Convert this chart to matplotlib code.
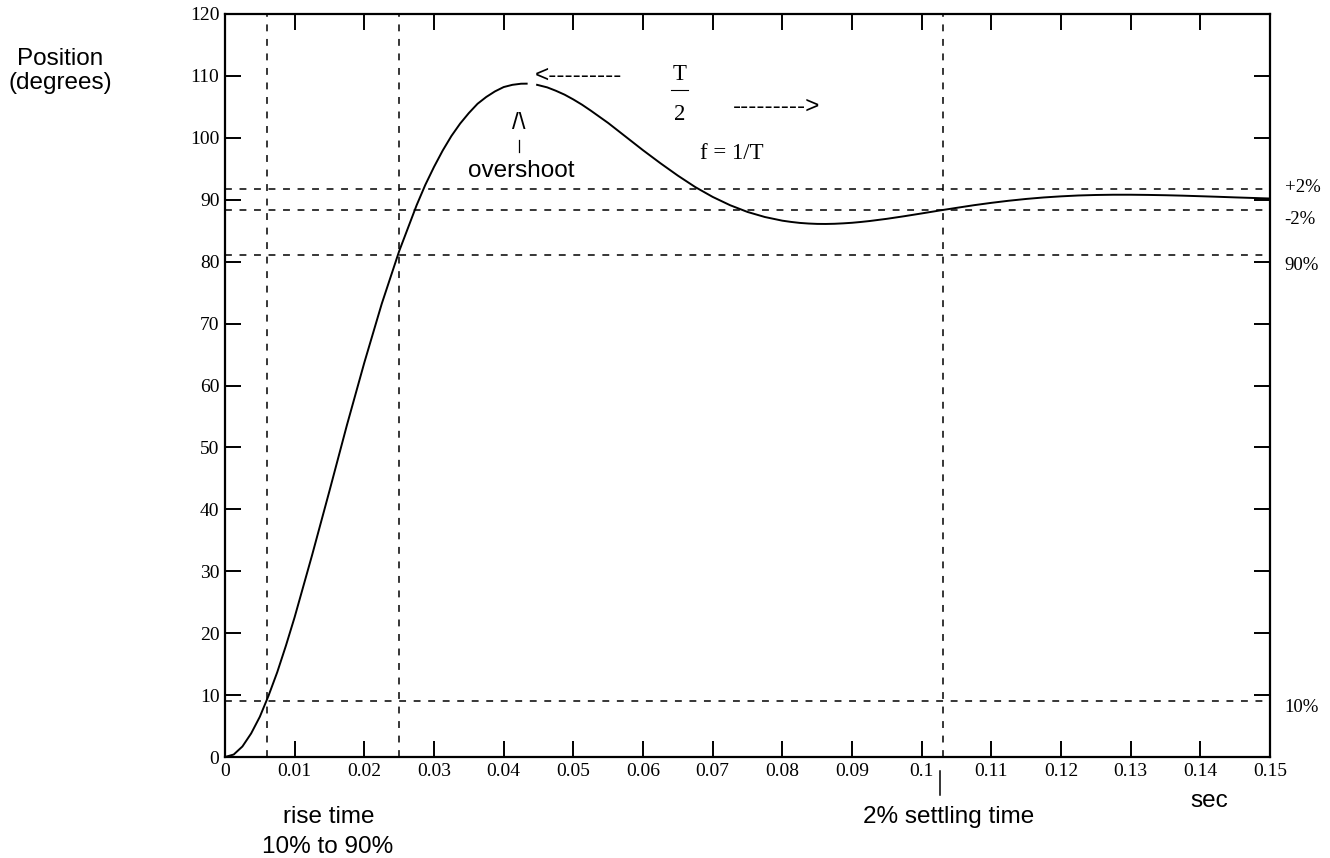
import numpy as np
import matplotlib
matplotlib.use('Agg')
import matplotlib.pyplot as plt

# step response (sec, degrees); the trace has a small break at the peak
t_rise = [0.0, 0.00125, 0.0025, 0.00375, 0.005, 0.00625, 0.0075, 0.00875, 0.01, 0.0125,
          0.015, 0.0175, 0.02, 0.0225, 0.025, 0.0275, 0.02875, 0.03, 0.03125, 0.0325,
          0.03375, 0.035, 0.03625, 0.0375, 0.03875, 0.04, 0.04125, 0.0425, 0.0433]
pos_rise = [0.0, 0.4, 1.7, 3.8, 6.5, 9.9, 13.7, 18.0, 22.6, 32.6,
            43.0, 53.6, 63.7, 73.2, 81.7, 89.1, 92.4, 95.3, 97.95, 100.3,
            102.3, 104.0, 105.5, 106.6, 107.5, 108.2, 108.56, 108.74, 108.75]
t_fall = [0.0448, 0.04625, 0.0475, 0.04875, 0.05, 0.05125, 0.0525, 0.055, 0.0575, 0.06,
          0.0625, 0.065, 0.0675, 0.07, 0.0725, 0.075, 0.0775, 0.08, 0.08125, 0.0825,
          0.08375, 0.085, 0.08625, 0.0875, 0.08875, 0.09, 0.09125, 0.0925, 0.095, 0.0975,
          0.1, 0.1025, 0.105, 0.1075, 0.11, 0.1125, 0.115, 0.1175, 0.12, 0.1225,
          0.125, 0.1275, 0.13, 0.1325, 0.135, 0.1375, 0.14, 0.1425, 0.145, 0.1475, 0.15]
pos_fall = [108.56, 108.15, 107.6, 106.97, 106.2, 105.35, 104.4, 102.4, 100.2, 98.0,
            95.9, 93.9, 92.05, 90.46, 89.12, 88.03, 87.21, 86.62, 86.42, 86.26,
            86.16, 86.10, 86.09, 86.12, 86.19, 86.28, 86.41, 86.56, 86.92, 87.34,
            87.79, 88.25, 88.69, 89.12, 89.50, 89.84, 90.13, 90.37, 90.55, 90.69,
            90.77, 90.81, 90.81, 90.78, 90.73, 90.66, 90.57, 90.48, 90.38, 90.29, 90.20]

# reference levels and times
levels = [91.7, 88.3, 81.0, 9.0]
level_labels = ['+2%', '-2%', '90%', '10%']
times = [0.006, 0.025, 0.103]

xticks = [0, 0.01, 0.02, 0.03, 0.04, 0.05, 0.06, 0.07, 0.08, 0.09, 0.1,
          0.11, 0.12, 0.13, 0.14, 0.15]
xticklabels = ['0', '0.01', '0.02', '0.03', '0.04', '0.05', '0.06', '0.07', '0.08',
               '0.09', '0.1', '0.11', '0.12', '0.13', '0.14', '0.15']
yticks = [0, 10, 20, 30, 40, 50, 60, 70, 80, 90, 100, 110, 120]

SANS = 'Liberation Sans'
SERIF = 'Liberation Serif'

fig = plt.figure(figsize=(13.3, 8.58), dpi=100)
ax = fig.add_axes([225/1330., 101/858., 1045/1330., 743/858.])

ax.plot(t_rise, pos_rise, color='k', lw=1.4, solid_joinstyle='round')
ax.plot(t_fall, pos_fall, color='k', lw=1.4, solid_joinstyle='round')

kw = dict(color='k', lw=1.1, dashes=(4.5, 5))
for y in levels:
    ax.axhline(y, **kw)
for x in times:
    ax.axvline(x, **kw)

ax.set_xlim(0, 0.15)
ax.set_ylim(0, 120)
ax.set_xticks(xticks)
ax.set_xticklabels(xticklabels, family=SERIF, fontsize=14)
ax.set_yticks(yticks)
ax.set_yticklabels([str(v) for v in yticks], family=SERIF, fontsize=14)
ax.tick_params(direction='in', length=11.5, width=1.4, top=True, right=True)
ax.tick_params(axis='x', pad=4)
ax.tick_params(axis='y', pad=4)
for s in ax.spines.values():
    s.set_linewidth(1.6)

# labels on the right side
for y, lab in zip([91.3, 86.1, 78.7, 7.3], level_labels):
    ax.text(0.1521, y, lab, family=SERIF, fontsize=13.5, ha='left', va='baseline',
            clip_on=False)

ax.text(-0.0237, 110.8, 'Position\n(degrees)', family=SANS, fontsize=17.5,
        ha='center', va='center', linespacing=1.15, clip_on=False)

# overshoot marker
ax.text(0.0422, 101.5, '/\\', family=SANS, fontsize=17.5, ha='center', va='baseline')
ax.plot([0.0422, 0.0422], [97.7, 99.7], color='k', lw=0.9)
ax.text(0.0425, 93.7, 'overshoot', family=SANS, fontsize=17.5, ha='center', va='baseline')

# half period
ax.text(0.0445, 109.0, '<---------', family=SANS, fontsize=17.5, ha='left', va='baseline')
ax.text(0.0729, 104.0, '--------->', family=SANS, fontsize=17.5, ha='left', va='baseline')
ax.text(0.0652, 109.4, 'T', family=SERIF, fontsize=16.5, ha='center', va='baseline')
ax.plot([0.0640, 0.0665], [107.8, 107.8], color='k', lw=0.8)
ax.text(0.0652, 102.9, '2', family=SERIF, fontsize=16.5, ha='center', va='baseline')
ax.text(0.0682, 96.6, 'f = 1/T', family=SERIF, fontsize=16.5, ha='left', va='baseline')

# below the axis
ax.text(0.0149, -10.6, 'rise time', family=SANS, fontsize=17.5, ha='center',
        va='baseline', clip_on=False)
ax.text(0.0148, -15.5, '10% to 90%', family=SANS, fontsize=17.5, ha='center',
        va='baseline', clip_on=False)
ax.plot([0.1027, 0.1027], [-2.3, -6.1], color='k', lw=1.1, clip_on=False)
ax.text(0.1039, -10.7, '2% settling time', family=SANS, fontsize=17.5, ha='center',
        va='baseline', clip_on=False)
ax.text(0.1413, -8.1, 'sec', family=SANS, fontsize=17.5, ha='center',
        va='baseline', clip_on=False)

plt.savefig('out.png', dpi=100)
